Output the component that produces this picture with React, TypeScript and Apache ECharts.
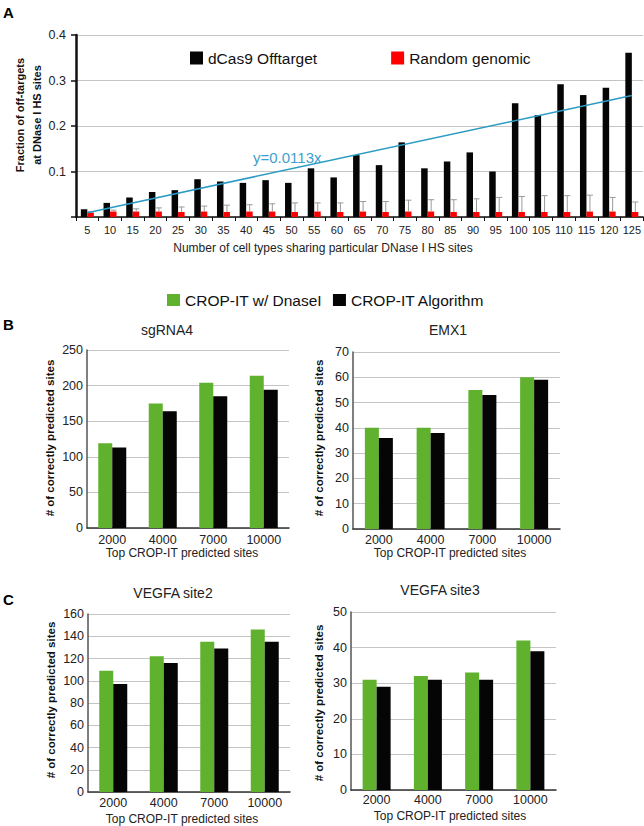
import React, { useEffect, useRef } from 'react';
import * as echarts from 'echarts';

const FONT = '"Liberation Sans", Arial, sans-serif';

// Panel A
const cellTypeCats = ['5','10','15','20','25','30','35','40','45','50','55','60','65','70','75','80','85','90','95','100','105','110','115','120','125'];
const dcas9Offtarget = [0.017,0.031,0.043,0.055,0.059,0.083,0.078,0.075,0.081,0.075,0.107,0.087,0.136,0.114,0.164,0.107,0.122,0.142,0.100,0.250,0.224,0.292,0.268,0.284,0.361];
const randomGenomic = [0.010,0.012,0.012,0.012,0.011,0.012,0.011,0.012,0.012,0.011,0.012,0.011,0.012,0.011,0.012,0.012,0.011,0.011,0.011,0.011,0.011,0.011,0.012,0.012,0.011];
const randomErrTop = [0.012,0.015,0.018,0.020,0.022,0.024,0.026,0.027,0.029,0.031,0.031,0.031,0.034,0.034,0.037,0.038,0.038,0.040,0.043,0.045,0.047,0.047,0.048,0.043,0.033];
const trendStart = 0.0095;
const trendEnd = 0.267;
const trendLabel = 'y=0.0113x';

// Panels B & C
const siteCats = ['2000','4000','7000','10000'];
const sgRNA4Dnase = [119,175,204,214];
const sgRNA4Algo = [113,164,185,194];
const emx1Dnase = [40,40,55,60];
const emx1Algo = [36,38,53,59];
const vegfa2Dnase = [109,122,135,146];
const vegfa2Algo = [97,116,129,135];
const vegfa3Dnase = [31,32,33,42];
const vegfa3Algo = [29,31,31,39];

const GREEN = '#5fb12e';
const BLACK = '#050505';
const RED = '#ff0000';

export default function App() {
  const ref = useRef<HTMLDivElement>(null);
  useEffect(() => {
    if (!ref.current) return;
    const chart = echarts.init(ref.current, undefined, { renderer: 'svg' });

    const last = cellTypeCats.length - 1;
    const trendData = cellTypeCats.map((_, i) => (i === 0 ? trendStart : i === last ? trendEnd : null));
    const errData = cellTypeCats.map((_, i) => [i, randomGenomic[i], randomErrTop[i]]);

    const panels = [
      { title: 'sgRNA4', tx: 167, ty: 330, grid: { left: 87, top: 350, width: 202, height: 178 }, max: 250, interval: 50, d: sgRNA4Dnase, a: sgRNA4Algo, nx: 182, ny: 553, yx: 50, yy: 438, lm: 5 },
      { title: 'EMX1', tx: 448, ty: 330, grid: { left: 353, top: 352, width: 207, height: 177 }, max: 70, interval: 10, d: emx1Dnase, a: emx1Algo, nx: 450, ny: 553, yx: 319, yy: 438, lm: 4 },
      { title: 'VEGFA site2', tx: 173, ty: 593, grid: { left: 88, top: 614, width: 202, height: 178 }, max: 160, interval: 20, d: vegfa2Dnase, a: vegfa2Algo, nx: 182, ny: 819, yx: 51, yy: 700, lm: 4 },
      { title: 'VEGFA site3', tx: 440, ty: 590, grid: { left: 351, top: 612, width: 205, height: 178 }, max: 50, interval: 10, d: vegfa3Dnase, a: vegfa3Algo, nx: 450, ny: 816, yx: 319, yy: 703, lm: 3 },
    ];

    const grids: any[] = [{ left: 76, top: 35, width: 568, height: 182 }];
    const xAxes: any[] = [{
      type: 'category', gridIndex: 0, data: cellTypeCats,
      axisLine: { lineStyle: { color: '#111', width: 1.5 } },
      axisTick: { show: true, interval: 0, length: 4, lineStyle: { color: '#111' } },
      axisLabel: { interval: 0, fontSize: 11, color: '#222', fontFamily: FONT, margin: 7 },
    }];
    const yAxes: any[] = [{
      type: 'value', gridIndex: 0, min: 0, max: 0.4, interval: 0.1,
      axisLine: { show: true, lineStyle: { color: '#111', width: 2.5 } },
      axisTick: { show: true, length: 5, lineStyle: { color: '#111', width: 1.5 } },
      splitLine: { lineStyle: { color: '#c4c4c4', width: 1 } },
      axisLabel: { fontSize: 12.5, color: '#222', fontFamily: FONT, margin: 10, formatter: (v: number) => (v === 0 ? '' : v.toFixed(1)) },
    }];
    const series: any[] = [
      { name: 'dCas9 Offtarget', type: 'bar', xAxisIndex: 0, yAxisIndex: 0, data: dcas9Offtarget, barWidth: 6.5, barGap: '0%', itemStyle: { color: BLACK } },
      { name: 'Random genomic', type: 'bar', xAxisIndex: 0, yAxisIndex: 0, data: randomGenomic, barWidth: 6.5, barGap: '0%', itemStyle: { color: RED } },
      {
        name: 'err', type: 'custom', xAxisIndex: 0, yAxisIndex: 0, data: errData, encode: { x: 0, y: 2 }, z: 3,
        renderItem: (params: any, api: any) => {
          const idx = api.value(0);
          const base = api.coord([idx, api.value(1)]);
          const top = api.coord([idx, api.value(2)]);
          const x = base[0] + 3.5;
          return {
            type: 'group',
            children: [
              { type: 'line', shape: { x1: x, y1: base[1], x2: x, y2: top[1] }, style: { stroke: '#9a9a9a', lineWidth: 1 } },
              { type: 'line', shape: { x1: x - 3, y1: top[1], x2: x + 3, y2: top[1] }, style: { stroke: '#9a9a9a', lineWidth: 1 } },
            ],
          };
        },
      },
      { name: 'trend', type: 'line', xAxisIndex: 0, yAxisIndex: 0, data: trendData, connectNulls: true, symbol: 'none', lineStyle: { color: '#2b9bc4', width: 1.5 }, z: 5 },
    ];

    const graphics: any[] = [
      { type: 'text', x: 3, y: 5, style: { text: 'A', font: `bold 15px ${FONT}`, fill: '#000' } },
      { type: 'text', x: 3, y: 317, style: { text: 'B', font: `bold 15px ${FONT}`, fill: '#000' } },
      { type: 'text', x: 3, y: 592, style: { text: 'C', font: `bold 15px ${FONT}`, fill: '#000' } },
      { type: 'text', x: 253, y: 157, style: { text: trendLabel, font: `15px ${FONT}`, fill: '#3f9fd0', verticalAlign: 'middle', align: 'left' } },
      { type: 'text', x: 28, y: 115, rotation: Math.PI / 2, style: { text: 'Fraction of off-targets\nat DNase I HS sites', font: `bold 11px ${FONT}`, fill: '#111', align: 'center', verticalAlign: 'middle', lineHeight: 17 } },
      { type: 'text', x: 323, y: 248, style: { text: 'Number of cell types sharing particular DNase I HS sites', font: `12px ${FONT}`, fill: '#222', align: 'center', verticalAlign: 'middle' } },
    ];

    panels.forEach((p, k) => {
      const gi = k + 1;
      grids.push(p.grid);
      xAxes.push({
        type: 'category', gridIndex: gi, data: siteCats,
        axisLine: { lineStyle: { color: '#333', width: 1.5 } },
        axisTick: { show: false },
        axisLabel: { fontSize: 12.5, color: '#222', fontFamily: FONT, margin: p.lm },
      });
      yAxes.push({
        type: 'value', gridIndex: gi, min: 0, max: p.max, interval: p.interval,
        axisLine: { show: true, lineStyle: { color: '#555', width: 1.5 } },
        axisTick: { show: false },
        splitLine: { lineStyle: { color: '#c4c4c4', width: 1 } },
        axisLabel: { fontSize: 12.5, color: '#222', fontFamily: FONT, margin: 4 },
      });
      series.push(
        { name: 'CROP-IT w/ DnaseI', type: 'bar', xAxisIndex: gi, yAxisIndex: gi, data: p.d, barWidth: 14, barGap: '0%', itemStyle: { color: GREEN } },
        { name: 'CROP-IT Algorithm', type: 'bar', xAxisIndex: gi, yAxisIndex: gi, data: p.a, barWidth: 14, barGap: '0%', itemStyle: { color: BLACK } },
      );
      graphics.push(
        { type: 'text', x: p.tx, y: p.ty, style: { text: p.title, font: `14px ${FONT}`, fill: '#222', align: 'center', verticalAlign: 'middle' } },
        { type: 'text', x: p.nx, y: p.ny, style: { text: 'Top CROP-IT predicted sites', font: `12px ${FONT}`, fill: '#222', align: 'center', verticalAlign: 'middle' } },
        { type: 'text', x: p.yx, y: p.yy, rotation: Math.PI / 2, style: { text: '# of correctly predicted sites', font: `bold 11.5px ${FONT}`, fill: '#111', align: 'center', verticalAlign: 'middle' } },
      );
    });

    chart.setOption({
      animation: false,
      backgroundColor: '#ffffff',
      textStyle: { fontFamily: FONT },
      legend: [
        { data: ['dCas9 Offtarget', 'Random genomic'], left: 190, top: 50, padding: 0, itemWidth: 13, itemHeight: 13, itemGap: 74, icon: 'rect', selectedMode: false, textStyle: { fontSize: 15.5, color: '#111', fontFamily: FONT } },
        { data: ['CROP-IT w/ DnaseI', 'CROP-IT Algorithm'], left: 167, top: 292, padding: 0, itemWidth: 13, itemHeight: 12, itemGap: 11, icon: 'rect', selectedMode: false, textStyle: { fontSize: 15.5, color: '#111', fontFamily: FONT } },
      ],
      grid: grids,
      xAxis: xAxes,
      yAxis: yAxes,
      series,
      graphic: graphics,
    });
    return () => chart.dispose();
  }, []);
  return <div ref={ref} style={{ position: 'absolute', left: 0, top: 0, width: 644, height: 826, background: '#fff' }} />;
}
